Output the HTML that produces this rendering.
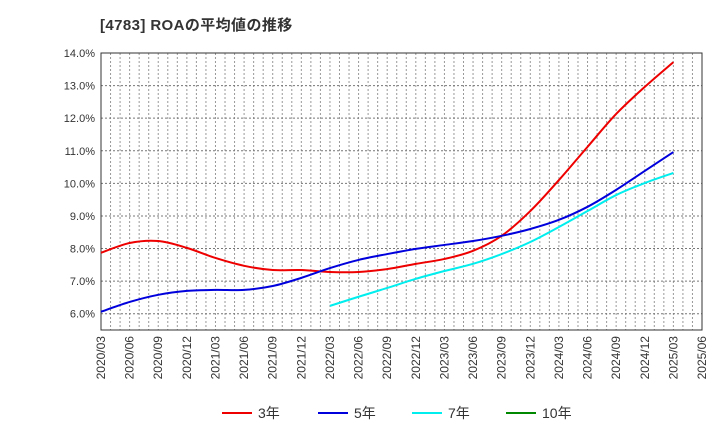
<!DOCTYPE html>
<html><head><meta charset="utf-8"><style>
body{margin:0;background:#fff;font-family:"Liberation Sans","Noto Sans CJK JP",sans-serif;}
</style></head><body>
<svg width="720" height="440" xmlns="http://www.w3.org/2000/svg">
<text x="100" y="30" font-size="15" font-weight="bold" fill="#333" letter-spacing="0.4">[4783]  ROAの平均値の推移</text>
<g id="grid"></g><g id="axes"></g><g id="series"></g><g id="legend"></g>
</svg>
<script>
const xLabels=["2020/03","2020/06","2020/09","2020/12","2021/03","2021/06","2021/09","2021/12","2022/03","2022/06","2022/09","2022/12","2023/03","2023/06","2023/09","2023/12","2024/03","2024/06","2024/09","2024/12","2025/03","2025/06"];
const yTicks=[6,7,8,9,10,11,12,13,14];
const s3=[7.87,8.17,8.23,8.02,7.71,7.47,7.34,7.34,7.28,7.28,7.37,7.53,7.68,7.93,8.39,9.15,10.1,11.12,12.13,12.96,13.72];
const s5=[6.06,6.36,6.58,6.7,6.73,6.73,6.85,7.1,7.4,7.65,7.83,7.99,8.11,8.23,8.39,8.6,8.88,9.28,9.8,10.38,10.96];
const s7=[null,null,null,null,null,null,null,null,6.24,6.52,6.79,7.07,7.31,7.53,7.83,8.2,8.66,9.15,9.64,10.01,10.32];
const s10=[];
const seriesNames=["3年","5年","7年","10年"];
const colors=["#e00","#00d","#0ee","#080"];
const L=101,R=702,T=53,B=330,yMin=5.5,yMax=14;
const X=i=>L+(R-L)*i/(xLabels.length-1);
const Y=v=>B-(B-T)*(v-yMin)/(yMax-yMin);
const NS="http://www.w3.org/2000/svg";
function mk(tag,attrs,parent){const e=document.createElementNS(NS,tag);for(const k in attrs)e.setAttribute(k,attrs[k]);parent.appendChild(e);return e;}
const grid=document.getElementById('grid'),axes=document.getElementById('axes'),ser=document.getElementById('series'),leg=document.getElementById('legend');
const nm=(xLabels.length-1)*3;
for(let m=1;m<nm;m++){const x=L+(R-L)*m/nm;const l=mk('line',{x1:x,x2:x,y1:T,y2:B,stroke:'#999','stroke-dasharray':'2,2','stroke-width':1},grid);

}
yTicks.forEach(v=>{const y=Y(v);const l=mk('line',{x1:L,x2:R,y1:y,y2:y,stroke:'#777','stroke-dasharray':'2,2','stroke-width':1},grid);


const t=mk('text',{x:L-6,y:y+4,'text-anchor':'end','font-size':11,fill:'#333'},axes);t.textContent=v.toFixed(1)+'%';

});
const fr=mk('rect',{x:L,y:T,width:R-L,height:B-T,fill:'none',stroke:'#333','stroke-width':1},axes);


xLabels.forEach((s,i)=>{const x=X(i);const t=mk('text',{transform:`translate(${x+4},${B+6}) rotate(-90)`,'text-anchor':'end','font-size':12,fill:'#333'},axes);t.textContent=s;

});
function path(arr){const p=[];arr.forEach((v,i)=>{if(v!=null)p.push([X(i),Y(v)]);});if(p.length<2)return '';
let d=`M${p[0][0]},${p[0][1]}`;for(let i=0;i<p.length-1;i++){const p0=p[i-1]||p[i],p1=p[i],p2=p[i+1],p3=p[i+2]||p2;
d+=` C${p1[0]+(p2[0]-p0[0])/6},${p1[1]+(p2[1]-p0[1])/6} ${p2[0]-(p3[0]-p1[0])/6},${p2[1]-(p3[1]-p1[1])/6} ${p2[0]},${p2[1]}`;}return d;}
[s3,s5,s7,s10].forEach((arr,k)=>{const d=path(arr);if(!d)return;const e=mk('path',{d:d,fill:'none',stroke:colors[k],'stroke-width':2},ser);

});
const lx=[222,318,412,506];
seriesNames.forEach((n,k)=>{const g=mk('g',{},leg);


mk('line',{x1:lx[k],x2:lx[k]+30,y1:413,y2:413,stroke:colors[k],'stroke-width':2},g);
const t=mk('text',{x:lx[k]+36,y:418,'font-size':14,fill:'#333'},g);t.textContent=n;});
</script>
</body></html>
